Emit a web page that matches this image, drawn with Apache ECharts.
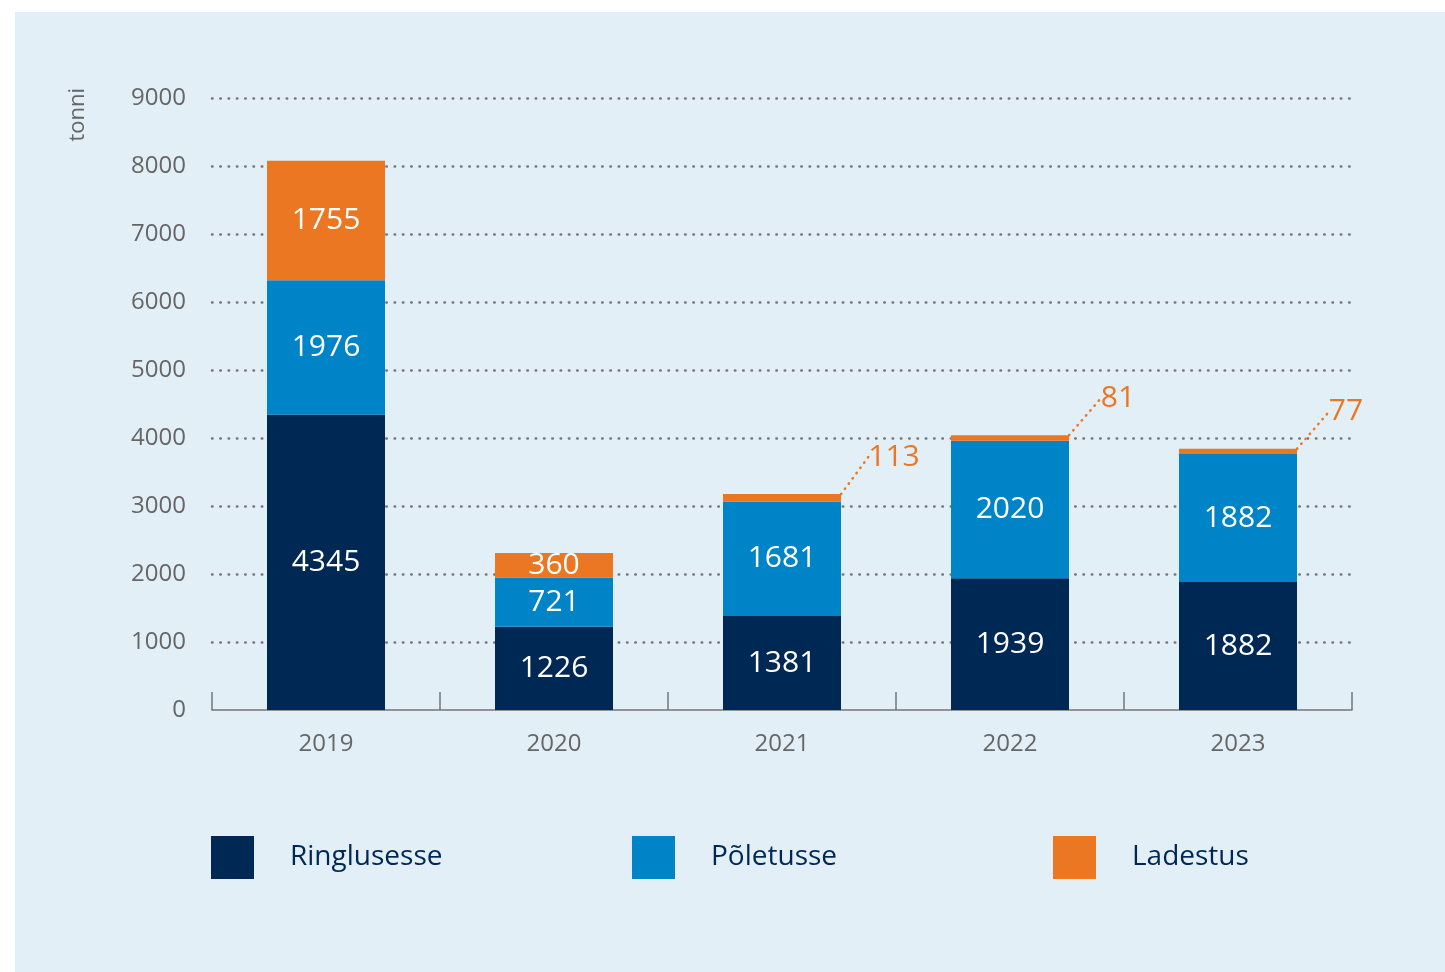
<!DOCTYPE html>
<html>
<head>
<meta charset="utf-8">
<script src="https://cdn.jsdelivr.net/npm/echarts@6/dist/echarts.min.js"></script>
<style>
  html, body { margin: 0; padding: 0; background: #ffffff; }
  #chart { position: absolute; left: 15px; top: 12px; width: 1430px; height: 960px; background: #e3eff7; }
</style>
</head>
<body>
<div id="chart"></div>
<script>
// jäätmed aastate kaupa, tonnides
var years = ['2019', '2020', '2021', '2022', '2023'];
var ringlusesse = [4345, 1226, 1381, 1939, 1882];
var poletusse = [1976, 721, 1681, 2020, 1882];
var ladestus = [1755, 360, 113, 81, 77];
var seriesNames = ['Ringlusesse', 'Põletusse', 'Ladestus'];
var yTicks = [0, 9000, 1000]; // min, max, samm

var font = "'Open Sans', sans-serif";
var orange = '#ec7723';

// väikesed ladestuse väärtused kirjutatakse bar'i kõrvale
var ladestusData = ladestus.map(function (v, i) {
    if (i < 2) return v;
    return {
        value: v,
        label: { position: 'top', color: orange, distance: 4 },
        labelLine: { show: true, lineStyle: { color: orange, width: 2.5, type: [0.5, 6], cap: 'round' } }
    };
});

// iga legendi kirje eraldi, et vahed tuleks ühtlased
var legends = seriesNames.map(function (name, i) {
    return {
        left: 196 + i * 421,
        top: 824,
        padding: 0,
        icon: 'rect',
        itemWidth: 43,
        itemHeight: 43,
        itemGap: 0,
        textStyle: { fontSize: 28, color: '#002855', fontFamily: font, padding: [0, 0, 0, 31] },
        data: [name]
    };
});

var chart = echarts.init(document.getElementById('chart'));
var option = {
    textStyle: { fontFamily: font },
    color: ['#002855', '#0084c8', orange],
    grid: { left: 197, right: 93, top: 86, bottom: 262 },
    graphic: [{
        type: 'text',
        left: 52,
        top: 76,
        rotation: Math.PI / 2,
        style: { text: 'tonni', fontSize: 22, fill: '#666', fontFamily: font }
    }],
    legend: legends,
    xAxis: {
        type: 'category',
        data: years,
        axisLine: { lineStyle: { color: '#777', width: 1.5 } },
        axisTick: { show: true, inside: true, length: 18, lineStyle: { color: '#777', width: 1.5 } },
        axisLabel: { color: '#666', fontSize: 24, margin: 22 }
    },
    yAxis: {
        type: 'value',
        min: yTicks[0],
        max: yTicks[1],
        interval: yTicks[2],
        axisLine: { show: false },
        axisTick: { show: false },
        axisLabel: { color: '#666', fontSize: 24, margin: 26, formatter: function (v) { return String(v); } },
        splitLine: { showMinLine: false, lineStyle: { color: '#777', width: 2.5, type: [0.5, 7.8], cap: 'round' } }
    },
    series: [
        {
            name: seriesNames[0],
            type: 'bar',
            stack: 'kokku',
            barWidth: 118,
            data: ringlusesse,
            label: { show: true, position: 'inside', color: '#fff', fontSize: 30 }
        },
        {
            name: seriesNames[1],
            type: 'bar',
            stack: 'kokku',
            data: poletusse,
            label: { show: true, position: 'inside', color: '#fff', fontSize: 30 }
        },
        {
            name: seriesNames[2],
            type: 'bar',
            stack: 'kokku',
            data: ladestusData,
            label: { show: true, position: 'inside', color: '#fff', fontSize: 30 },
            labelLayout: function (p) {
                if (p.dataIndex >= 2) {
                    return { dx: p.dataIndex === 2 ? 112 : 108, dy: -18 };
                }
                return {};
            }
        }
    ]
};
chart.setOption(option);
</script>
</body>
</html>
